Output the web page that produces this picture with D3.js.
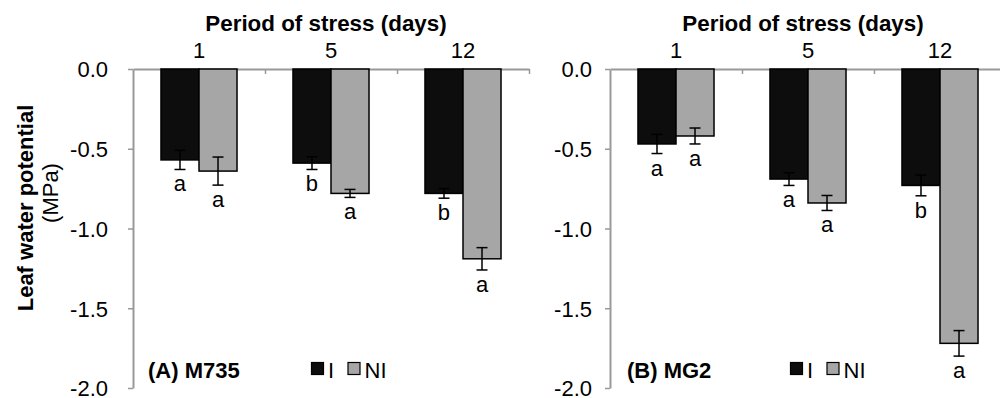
<!DOCTYPE html>
<html lang="en">
<head>
    <meta charset="UTF-8">
    <title>Leaf water potential</title>
    <script src="https://cdnjs.cloudflare.com/ajax/libs/d3/7.8.5/d3.min.js"></script>
    <style>
    html, body {
        margin: 0;
        background: white;
    }
    svg text {
        font-family: "Liberation Sans", Arial, sans-serif;
        font-size: 22px;
        fill: black;
    }
    .bold {
        font-weight: bold;
    }
    </style>
</head>
<body>
    <div id="chart"></div>
    <script>
    // data
    var categories = ['1', '5', '12'];
    var yTicks = [0, -0.5, -1, -1.5, -2];
    var yTickLabels = ['0.0', '-0.5', '-1.0', '-1.5', '-2.0'];
    var series = ['I', 'NI'];

    var aI = [-0.57, -0.59, -0.78];
    var aIErr = [0.06, 0.04, 0.03];
    var aNI = [-0.64, -0.78, -1.19];
    var aNIErr = [0.088, 0.025, 0.07];
    var aILetters = ['a', 'b', 'b'];
    var aNILetters = ['a', 'a', 'a'];

    var bI = [-0.47, -0.69, -0.73];
    var bIErr = [0.06, 0.04, 0.065];
    var bNI = [-0.42, -0.84, -1.72];
    var bNIErr = [0.05, 0.047, 0.08];
    var bILetters = ['a', 'a', 'b'];
    var bNILetters = ['a', 'a', 'a'];

    var colors = {I: '#0d0d0d', NI: '#a6a6a6'};
    var axisColor = '#999999';

    var width = 1000;
    var height = 398;

    var svg = d3.select('#chart')
        .append('svg')
            .attr('width', width)
            .attr('height', height);

    var y = d3.scaleLinear()
        .domain([-2, 0])
        .range([388, 69]);

    function drawPanel(opts) {
        var g = svg.append('g');
        var x0 = opts.x0;
        var catW = 132;

        var x = d3.scaleBand()
            .domain(categories)
            .range([x0, x0 + catW * categories.length])
            .paddingInner(0.424)
            .paddingOuter(0.212);

        var xs = d3.scaleBand()
            .domain(series)
            .range([0, x.bandwidth()]);

        var bounds = d3.scaleLinear()
            .domain([0, categories.length])
            .range([x0, x0 + catW * categories.length]);

        // y axis
        var yAxis = d3.axisLeft(y)
            .tickValues(yTicks)
            .tickFormat(function(d, i){ return yTickLabels[i]; })
            .tickSizeInner(5)
            .tickSizeOuter(0)
            .tickPadding(opts.tickPad);

        var ya = g.append('g')
            .attr('transform', 'translate(' + x0 + ',0)')
            .call(yAxis);
        ya.select('.domain').attr('stroke', axisColor).attr('stroke-width', 2);
        ya.selectAll('.tick line').attr('stroke', axisColor).attr('stroke-width', 1.5);
        ya.selectAll('.tick text')
            .attr('dy', '0.36em');
        ya.attr('font-size', null).attr('font-family', null);

        // category axis on top, ticks between categories
        var xAxis = d3.axisBottom(bounds)
            .tickValues(d3.range(1, categories.length + 1))
            .tickFormat('')
            .tickSizeInner(5)
            .tickSizeOuter(0);

        var xa = g.append('g')
            .attr('transform', 'translate(0,' + y(0) + ')')
            .call(xAxis);
        xa.select('.domain').attr('stroke', axisColor).attr('stroke-width', 2);
        xa.selectAll('.tick line').attr('stroke', axisColor).attr('stroke-width', 1.5);

        g.selectAll('.cat')
            .data(categories)
            .enter()
            .append('text')
            .attr('class', 'cat')
            .attr('x', function(d){ return x(d) + x.bandwidth() / 2; })
            .attr('y', 58)
            .attr('text-anchor', 'middle')
            .text(function(d){ return d; });

        g.append('text')
            .attr('class', 'bold')
            .attr('x', x0 + catW * 1.5 - 5)
            .attr('y', 31)
            .attr('text-anchor', 'middle')
            .style('font-size', '22.4px')
            .text('Period of stress (days)');

        // bars
        var rows = [];
        categories.forEach(function(c, i){
            rows.push({cat: c, s: 'I', v: opts.I[i], e: opts.IErr[i], l: opts.ILetters[i]});
            rows.push({cat: c, s: 'NI', v: opts.NI[i], e: opts.NIErr[i], l: opts.NILetters[i]});
        });

        g.selectAll('.bar')
            .data(rows)
            .enter()
            .append('rect')
            .attr('class', 'bar')
            .attr('x', function(d){ return x(d.cat) + xs(d.s); })
            .attr('y', y(0))
            .attr('width', xs.bandwidth())
            .attr('height', function(d){ return y(d.v) - y(0); })
            .attr('fill', function(d){ return colors[d.s]; })
            .attr('stroke', 'black')
            .attr('stroke-width', 1.5);

        var cx = function(d){ return x(d.cat) + xs(d.s) + xs.bandwidth() / 2; };

        var err = g.selectAll('.err')
            .data(rows)
            .enter()
            .append('g')
            .attr('class', 'err')
            .attr('stroke', 'black')
            .attr('stroke-width', 1.5);

        err.append('line')
            .attr('x1', cx).attr('x2', cx)
            .attr('y1', function(d){ return y(d.v + d.e); })
            .attr('y2', function(d){ return y(d.v - d.e); });
        err.append('line')
            .attr('x1', function(d){ return cx(d) - 5.5; })
            .attr('x2', function(d){ return cx(d) + 5.5; })
            .attr('y1', function(d){ return y(d.v + d.e); })
            .attr('y2', function(d){ return y(d.v + d.e); });
        err.append('line')
            .attr('x1', function(d){ return cx(d) - 5.5; })
            .attr('x2', function(d){ return cx(d) + 5.5; })
            .attr('y1', function(d){ return y(d.v - d.e); })
            .attr('y2', function(d){ return y(d.v - d.e); });

        g.selectAll('.letter')
            .data(rows)
            .enter()
            .append('text')
            .attr('class', 'letter')
            .attr('x', cx)
            .attr('y', function(d){ return y(d.v - d.e) + 22; })
            .attr('text-anchor', 'middle')
            .text(function(d){ return d.l; });

        // panel label and legend
        g.append('text')
            .attr('class', 'bold')
            .attr('x', x0 + opts.labelDx)
            .attr('y', 378)
            .text(opts.label);

        var lg = g.append('g')
            .attr('transform', 'translate(' + (x0 + opts.legendDx) + ',362)');
        var items = lg.selectAll('.item')
            .data(series)
            .enter()
            .append('g')
            .attr('transform', function(d, i){ return 'translate(' + (i * 36.5) + ',0)'; });
        items.append('rect')
            .attr('x', 0.5)
            .attr('y', 0.5)
            .attr('width', 12)
            .attr('height', 12)
            .attr('fill', function(d){ return colors[d]; })
            .attr('stroke', 'black')
            .attr('stroke-width', 1.2);
        items.append('text')
            .attr('x', 17)
            .attr('y', 15.5)
            .text(function(d){ return d; });
    }

    drawPanel({
        x0: 133, tickPad: 20, label: '(A) M735', labelDx: 15, legendDx: 178,
        I: aI, IErr: aIErr, NI: aNI, NIErr: aNIErr, ILetters: aILetters, NILetters: aNILetters
    });

    drawPanel({
        x0: 610, tickPad: 13, label: '(B) MG2', labelDx: 17, legendDx: 180,
        I: bI, IErr: bIErr, NI: bNI, NIErr: bNIErr, ILetters: bILetters, NILetters: bNILetters
    });

    // y axis title
    var yt = svg.append('g');
    yt.append('text')
        .attr('class', 'bold')
        .attr('transform', 'translate(33,208) rotate(-90)')
        .attr('text-anchor', 'middle')
        .text('Leaf water potential');
    yt.append('text')
        .attr('transform', 'translate(58,193) rotate(-90)')
        .attr('text-anchor', 'middle')
        .text('(MPa)');
    </script>
</body>
</html>
